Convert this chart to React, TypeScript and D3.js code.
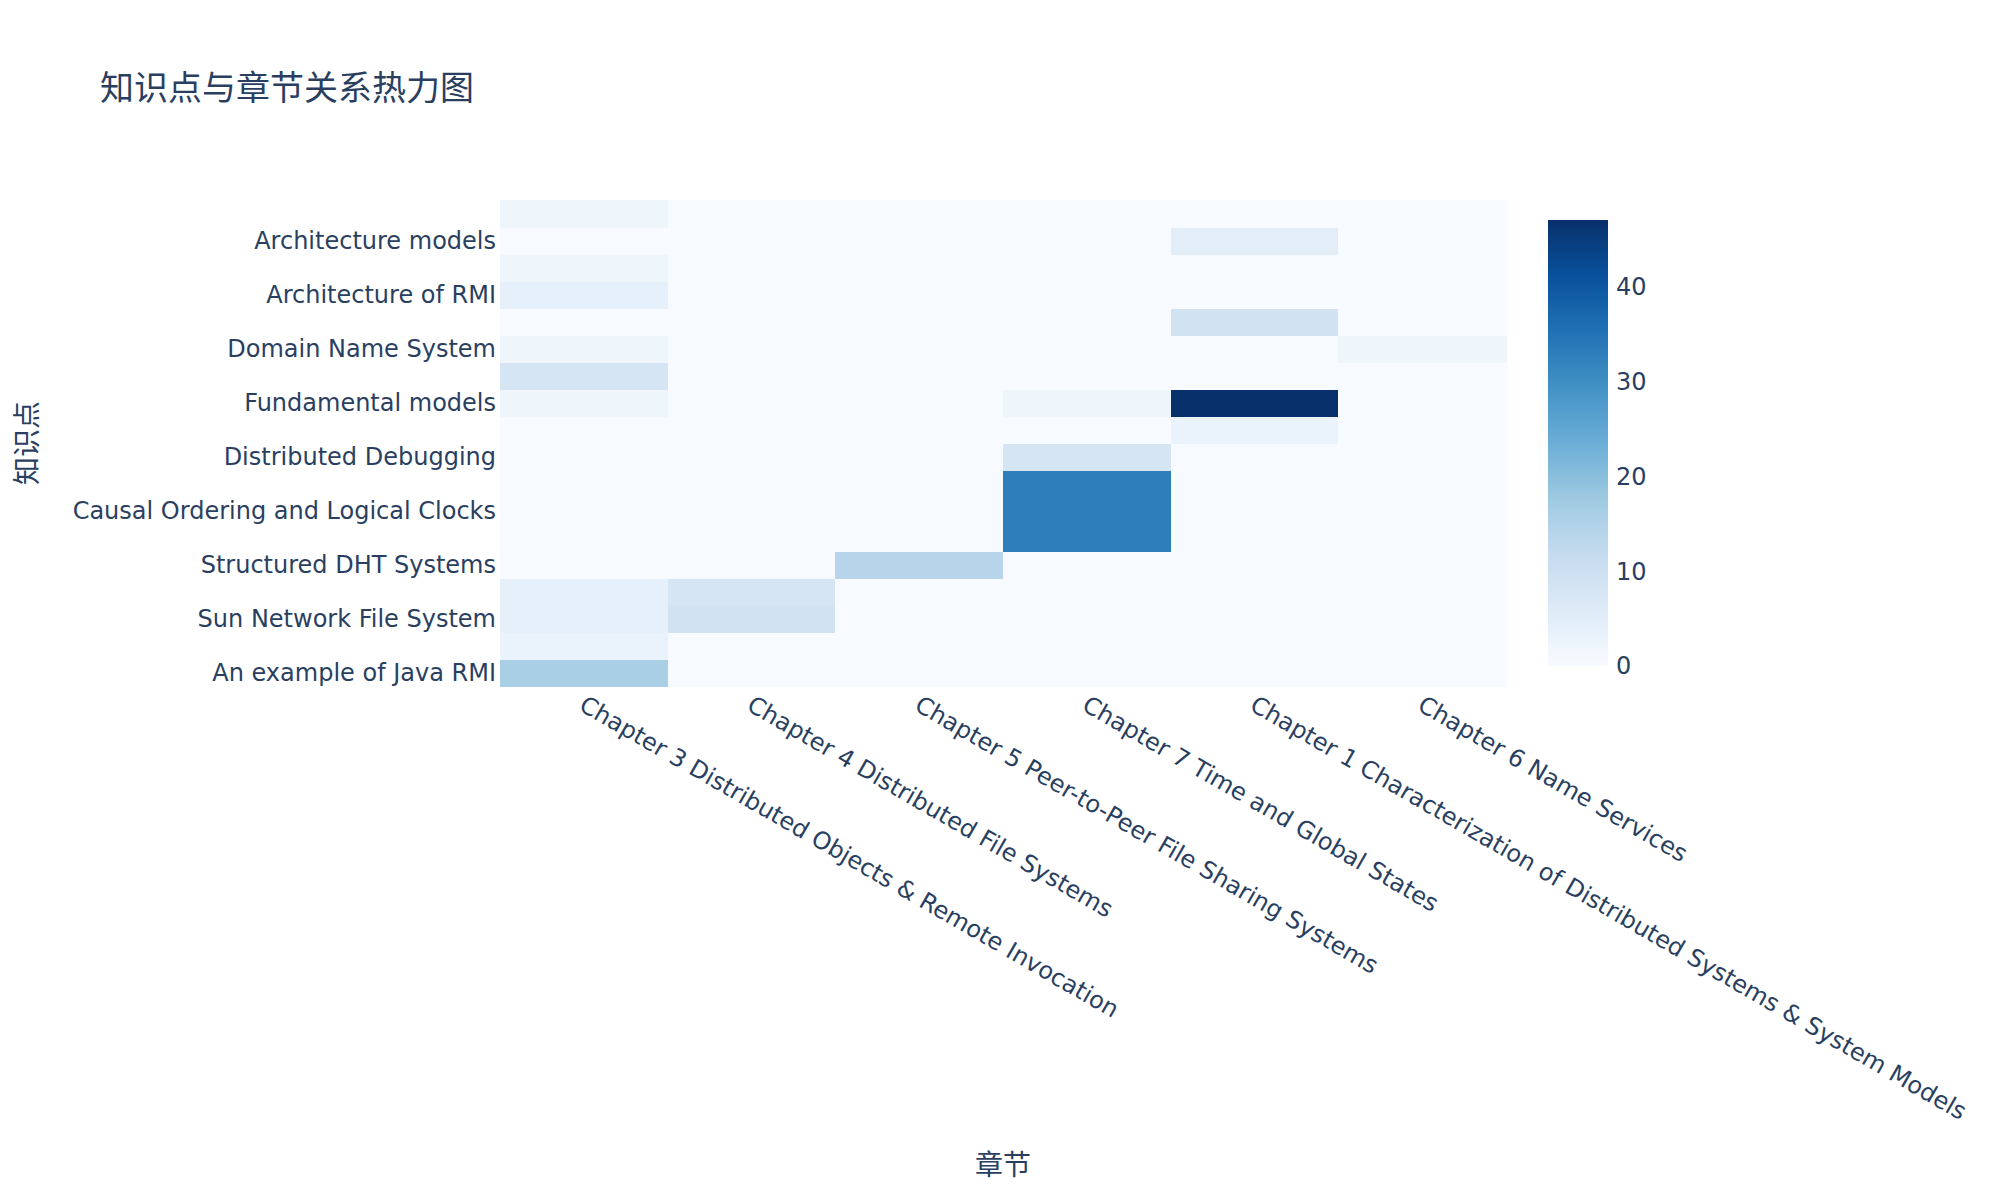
import * as d3 from 'd3';

const chapters = [
  'Chapter 3 Distributed Objects & Remote Invocation',
  'Chapter 4 Distributed File Systems',
  'Chapter 5 Peer-to-Peer File Sharing Systems',
  'Chapter 7 Time and Global States',
  'Chapter 1 Characterization of Distributed Systems & System Models',
  'Chapter 6 Name Services',
];

// listed bottom to top, the way the y categories stack
const topics = [
  'An example of Java RMI',
  'Remote Procedure Call',
  'Sun Network File System',
  'File Service Architecture',
  'Structured DHT Systems',
  'Clock Synchronization',
  'Causal Ordering and Logical Clocks',
  'Global States',
  'Distributed Debugging',
  'Challenges',
  'Fundamental models',
  'Distributed Objects',
  'Domain Name System',
  'Examples of Distributed Systems',
  'Architecture of RMI',
  'Request-Reply Protocols',
  'Architecture models',
  'Java RMI Callbacks',
];

// one array per chapter, values follow the topics order
const ch3 = [16, 3, 4, 4, 0, 0, 0, 0, 0, 0, 2, 8, 2, 0, 4, 2, 0, 2];
const ch4 = [0, 0, 9, 8, 0, 0, 0, 0, 0, 0, 0, 0, 0, 0, 0, 0, 0, 0];
const ch5 = [0, 0, 0, 0, 14, 0, 0, 0, 0, 0, 0, 0, 0, 0, 0, 0, 0, 0];
const ch7 = [0, 0, 0, 0, 0, 33, 33, 33, 8, 0, 2, 0, 0, 0, 0, 0, 0, 0];
const ch1 = [0, 0, 0, 0, 0, 0, 0, 0, 0, 3, 47, 0, 0, 9, 0, 0, 5, 0];
const ch6 = [0, 0, 0, 0, 0, 0, 0, 0, 0, 0, 0, 0, 2, 0, 0, 0, 0, 0];
const series = [ch3, ch4, ch5, ch7, ch1, ch6];

const colorbarTicks = [0, 10, 20, 30, 40];
const zMax = 47;

const blues = [
  'rgb(247,251,255)', 'rgb(222,235,247)', 'rgb(198,219,239)', 'rgb(158,202,225)',
  'rgb(107,174,214)', 'rgb(66,146,198)', 'rgb(33,113,181)', 'rgb(8,81,156)', 'rgb(8,48,107)',
];

const W = 2000;
const H = 1200;
const plot = { left: 500, right: 1506, top: 200, bottom: 686 };
const bar = { left: 1548, width: 60, top: 220, bottom: 666 };
const textColor = '#2a3f5f';
const font = '"DejaVu Sans", Verdana, "Noto Sans CJK SC", sans-serif';

export default function App() {
  const x = d3.scaleBand<string>().domain(chapters).range([plot.left, plot.right]);
  const y = d3.scaleBand<string>().domain([...topics].reverse()).range([plot.top, plot.bottom]);
  const color = d3.scaleLinear<string>()
    .domain(blues.map((_, i) => (i / (blues.length - 1)) * zMax))
    .range(blues)
    .interpolate(d3.interpolateRgb)
    .clamp(true);
  const cb = d3.scaleLinear().domain([0, zMax]).range([bar.bottom, bar.top]);

  const cells = chapters.flatMap((c, ci) =>
    topics.map((t, ti) => ({ c, t, v: series[ci][ti] }))
  );

  return (
    <svg width={W} height={H} style={{ position: 'absolute', left: 0, top: 0, background: '#fff' }}
      fontFamily={font}>
      <defs>
        <linearGradient id="cbGrad" x1="0" y1="1" x2="0" y2="0">
          {blues.map((b, i) => (
            <stop key={i} offset={i / (blues.length - 1)} stopColor={b} />
          ))}
        </linearGradient>
      </defs>

      <text x={100} y={100} fontSize={34} fill={textColor}>知识点与章节关系热力图</text>

      <g shapeRendering="crispEdges">
        {cells.map((d, i) => (
          <rect key={i} x={x(d.c)!} y={y(d.t)!} width={x.bandwidth() + 0.5}
            height={y.bandwidth() + 0.5} fill={color(d.v)} />
        ))}
      </g>

      {/* y tick labels, every other category as plotly shows them */}
      <g fontSize={24} fill={textColor} textAnchor="end">
        {topics.map((t, i) => i % 2 === 0 ? (
          <text key={t} x={plot.left - 4} y={y(t)! + y.bandwidth() / 2} dy="0.35em">{t}</text>
        ) : null)}
      </g>

      {/* x tick labels, tilted 30 degrees */}
      <g fontSize={24} fill={textColor}>
        {chapters.map((c) => (
          <text key={c} transform={`translate(${x(c)! + x.bandwidth() / 2 + 3},${plot.bottom + 8}) rotate(30)`}
            dy="0.75em">{c}</text>
        ))}
      </g>

      <text x={(plot.left + plot.right) / 2} y={1165} dy="0.35em" fontSize={28} fill={textColor}
        textAnchor="middle">章节</text>
      <text transform={`translate(27,${(plot.top + plot.bottom) / 2}) rotate(-90)`} dy="0.35em"
        fontSize={28} fill={textColor} textAnchor="middle">知识点</text>

      {/* colorbar */}
      <rect x={bar.left} y={bar.top} width={bar.width} height={bar.bottom - bar.top} fill="url(#cbGrad)" />
      <g fontSize={24} fill={textColor}>
        {colorbarTicks.map((t) => (
          <text key={t} x={bar.left + bar.width + 8} y={cb(t)} dy="0.35em">{t}</text>
        ))}
      </g>
    </svg>
  );
}
